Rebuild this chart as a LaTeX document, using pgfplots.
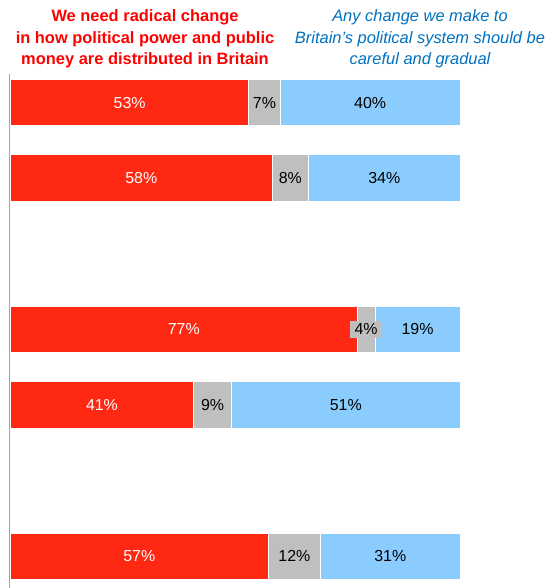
\documentclass[border=0pt]{standalone}
\usepackage{fontspec}
\setmainfont{Liberation Sans}
\usepackage{pgfplots}
\pgfplotsset{compat=1.18}
\usepackage{pgfplotstable}
\definecolor{barred}{RGB}{255,40,18}
\definecolor{bargray}{RGB}{191,191,191}
\definecolor{barblue}{RGB}{139,204,255}
\definecolor{headred}{RGB}{255,0,0}
\definecolor{headblue}{RGB}{0,112,192}
\definecolor{axgray}{RGB}{166,166,166}

\pgfplotstableread{
slot red gray blue
0 53 7 40
1 58.2 8.1 33.7
3 77.1 4 18.9
4 40.7 8.5 50.8
6 57.3 11.7 31
}\bars

\pgfplotstableread{
slot x lab
0 26.5 53
1 29.1 58
3 38.55 77
4 20.35 41
6 28.65 57
}\redlabels

\pgfplotstableread{
slot x lab
0 56.5 7
1 62.25 8
4 44.95 9
6 63.15 12
}\graylabels

\pgfplotstableread{
slot x lab
3 79.1 4
}\smalllabel

\pgfplotstableread{
slot x lab
0 80 40
1 83.15 34
3 90.55 19
4 74.6 51
6 84.5 31
}\bluelabels

\pgfplotsset{myaxis/.style={scale only axis, width=450.5bp, height=514.1bp,
  xmin=-0.22, xmax=100, ymin=-0.38, ymax=6.42, y dir=reverse,
  xtick=\empty, ytick=\empty, clip=false},
  lbl/.style={only marks, mark=none, point meta=explicit symbolic,
  nodes near coords={\pgfplotspointmeta\%}, nodes near coords align=center,
  every node near coord/.append style={font=\fontsize{16}{19}\selectfont}}}

\begin{document}
\begin{tikzpicture}
\path[use as bounding box] (-9.5bp,0) rectangle (544.5bp,588bp);
\begin{axis}[myaxis, xbar stacked, bar width=46.5bp,
  axis x line=none, axis y line*=left,
  y axis line style={axgray, line width=1.2bp, -}]
\addplot[fill=barred, draw=white, line width=1bp] table[x=red, y=slot]{\bars};
\addplot[fill=bargray, draw=white, line width=1bp] table[x=gray, y=slot]{\bars};
\addplot[fill=barblue, draw=white, line width=1bp] table[x=blue, y=slot]{\bars};
\end{axis}
\begin{axis}[myaxis, hide axis]
\addplot[lbl, every node near coord/.append style={text=white}] table[x=x, y=slot, meta=lab]{\redlabels};
\addplot[lbl, every node near coord/.append style={text=black}] table[x=x, y=slot, meta=lab]{\graylabels};
\addplot[lbl, every node near coord/.append style={text=black, fill=bargray, inner xsep=4.5bp, inner ysep=3bp}] table[x=x, y=slot, meta=lab]{\smalllabel};
\addplot[lbl, every node near coord/.append style={text=black}] table[x=x, y=slot, meta=lab]{\bluelabels};
\end{axis}
\node[align=center, text=headred, font=\fontsize{16.5}{21.8}\selectfont\bfseries, inner sep=0pt] at (135.5bp,549bp) {We need radical change\\in how political power and public\\money are distributed in Britain};
\node[align=center, text=headblue, font=\fontsize{16.5}{21.8}\selectfont\itshape, inner sep=0pt] at (410.5bp,549bp) {Any change we make to\\Britain’s political system should be\\careful and gradual};
\end{tikzpicture}
\end{document}
